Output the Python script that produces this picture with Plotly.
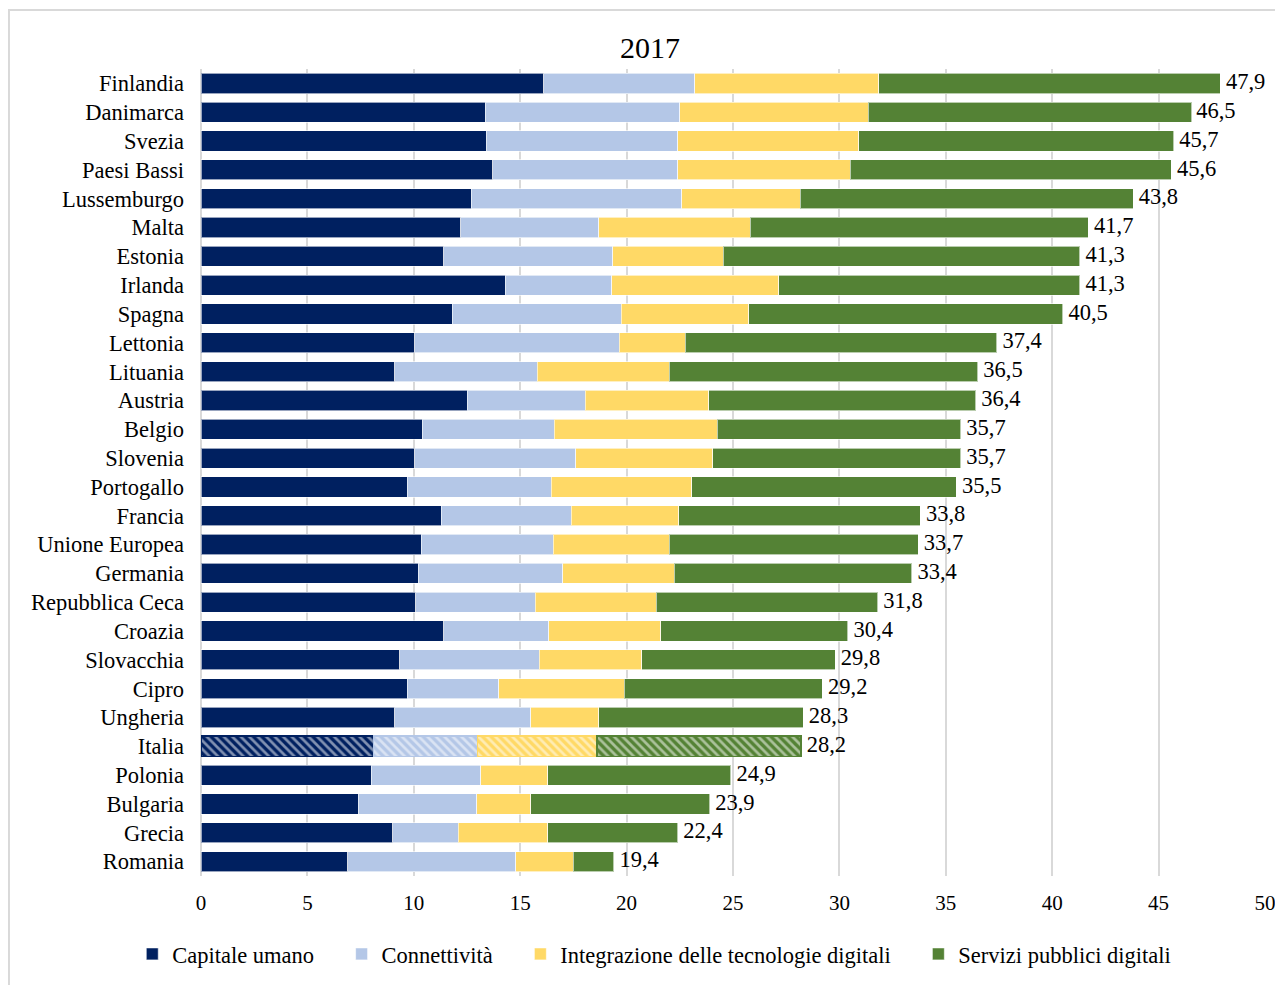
import plotly.graph_objects as go

countries = ["Finlandia", "Danimarca", "Svezia", "Paesi Bassi", "Lussemburgo", "Malta",
             "Estonia", "Irlanda", "Spagna", "Lettonia", "Lituania", "Austria", "Belgio",
             "Slovenia", "Portogallo", "Francia", "Unione Europea", "Germania",
             "Repubblica Ceca", "Croazia", "Slovacchia", "Cipro", "Ungheria", "Italia",
             "Polonia", "Bulgaria", "Grecia", "Romania"]

capitale_umano = [16.1, 13.35, 13.4, 13.7, 12.7, 12.2, 11.4, 14.3, 11.8, 10.05, 9.1, 12.5, 10.4,
                  10.05, 9.7, 11.3, 10.35, 10.2, 10.1, 11.4, 9.35, 9.7, 9.1, 8.1,
                  8.0, 7.4, 9.0, 6.9]
connettivita = [7.1, 9.15, 9.0, 8.7, 9.9, 6.5, 7.95, 5.0, 7.95, 9.6, 6.7, 5.55, 6.2,
                7.55, 6.75, 6.1, 6.2, 6.8, 5.6, 4.95, 6.55, 4.3, 6.4, 4.9,
                5.15, 5.55, 3.1, 7.9]
integrazione = [8.65, 8.85, 8.5, 8.1, 5.55, 7.1, 5.2, 7.85, 6.0, 3.1, 6.2, 5.8, 7.65,
                6.45, 6.6, 5.05, 5.45, 5.25, 5.7, 5.25, 4.8, 5.9, 3.2, 5.6,
                3.15, 2.55, 4.2, 2.7]
servizi_pubblici = [16.05, 15.2, 14.8, 15.1, 15.65, 15.9, 16.75, 14.15, 14.75, 14.65, 14.5, 12.55, 11.45,
                    11.65, 12.45, 11.35, 11.7, 11.15, 10.4, 8.8, 9.1, 9.3, 9.6, 9.6,
                    8.6, 8.4, 6.1, 1.9]
totali = [47.9, 46.5, 45.7, 45.6, 43.8, 41.7, 41.3, 41.3, 40.5, 37.4, 36.5, 36.4, 35.7,
          35.7, 35.5, 33.8, 33.7, 33.4, 31.8, 30.4, 29.8, 29.2, 28.3, 28.2,
          24.9, 23.9, 22.4, 19.4]

series_names = ["Capitale umano", "Connettività",
                "Integrazione delle tecnologie digitali", "Servizi pubblici digitali"]
series_values = [capitale_umano, connettivita, integrazione, servizi_pubblici]
series_colors = ["#002060", "#B4C7E7", "#FFD966", "#548235"]

FONT = "Liberation Serif"
highlight = "Italia"
NBSP = "\u00a0"

fig = go.Figure()
for i, (name, vals, col) in enumerate(zip(series_names, series_values, series_colors)):
    shapes = ["\\" if c == highlight else "" for c in countries]
    line_cols = [col if c == highlight else "rgba(255,255,255,0.6)" for c in countries]
    line_w = [1.5 if c == highlight else 1 for c in countries]
    pad = NBSP * 4 if i < len(series_names) - 1 else ""
    fig.add_trace(go.Bar(
        name=name + pad, y=countries, x=vals, orientation="h",
        marker=dict(color=col, line=dict(color=line_cols, width=line_w),
                    pattern=dict(shape=shapes, fillmode="overlay", fgcolor="white",
                                 size=6, solidity=0.45)),
        hovertemplate="%{y}: %{x}<extra>" + name + "</extra>",
    ))

fig.add_trace(go.Scatter(
    y=countries, x=totali, mode="text",
    text=[" " + f"{v:.1f}".replace(".", ",") for v in totali],
    textposition="middle right",
    textfont=dict(family=FONT, size=22.5, color="#000000"),
    showlegend=False, hoverinfo="skip", cliponaxis=False,
))

# page body has an 8px default margin, so the figure is shifted by 8px
fig.update_layout(
    barmode="stack",
    bargap=0.3,
    width=1275, height=977,
    margin=dict(l=193, r=18, t=61, b=109, autoexpand=False),
    paper_bgcolor="white", plot_bgcolor="white",
    font=dict(family=FONT, size=22.5, color="#000000"),
    title=dict(text="2017", x=0.422, xref="paper", xanchor="center",
               y=1 - 39 / 977, yanchor="middle", yref="container",
               font=dict(family=FONT, size=30, color="#000000")),
    xaxis=dict(range=[0, 50], dtick=5, showgrid=True, gridcolor="#D9D9D9", gridwidth=2,
               zeroline=True, zerolinecolor="#D9D9D9", zerolinewidth=2,
               showline=False, ticks="", ticklabelstandoff=12, automargin=False,
               tickfont=dict(family=FONT, size=21, color="#000000")),
    yaxis=dict(range=[27.5, -0.5], showgrid=False, showline=False, ticks="",
               ticklabelstandoff=16, automargin=False,
               tickfont=dict(family=FONT, size=22.5, color="#000000")),
    legend=dict(orientation="h", x=0.426, xanchor="center", y=-0.097, yanchor="middle",
                traceorder="normal", font=dict(family=FONT, size=22.5, color="#000000"),
                itemwidth=30, bgcolor="rgba(0,0,0,0)"),
    shapes=[dict(type="rect", xref="paper", yref="paper",
                 x0=-0.1805, x1=1.1, y0=-0.3, y1=1.0731,
                 line=dict(color="#D9D9D9", width=2), fillcolor="rgba(0,0,0,0)",
                 layer="below")],
    annotations=[dict(text="Indice 0-100. Anno 2017.", xref="paper", yref="paper",
                      x=-0.178, xanchor="left", y=1.0855, yanchor="bottom",
                      showarrow=False, font=dict(family=FONT, size=22, color="#555555"))],
)

fig.write_html("out.html")
